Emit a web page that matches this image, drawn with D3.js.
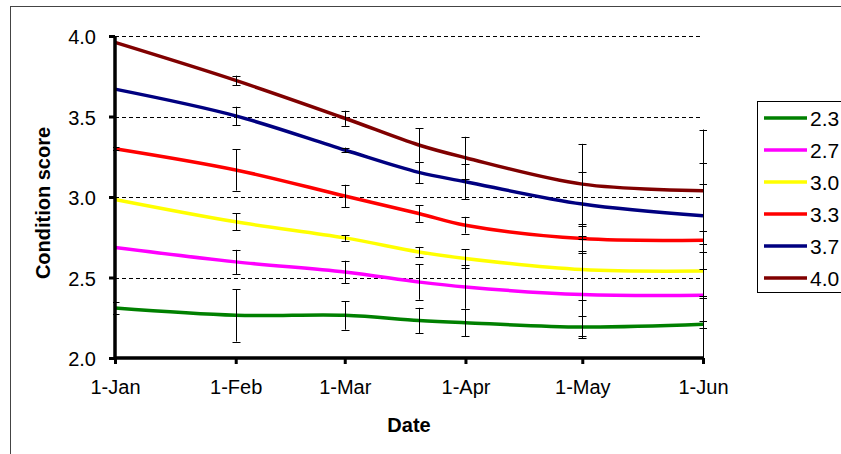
<!DOCTYPE html>
<html>
<head>
<meta charset="utf-8">
<script src="https://cdn.jsdelivr.net/npm/d3@7"></script>
<style>
    body { margin: 0; background: #fff; }
    svg { display: block; }
    text { font-family: 'Liberation Sans', Arial, sans-serif; fill: #000; }
    .tick-label { font-size: 20px; }
    .axis-title { font-size: 20px; font-weight: bold; }
    .legend-label { font-size: 21px; }
</style>
</head>
<body>
<div id="chart"></div>
<script>
// measurement dates (the mid-March one sits between the monthly ticks)
var dates = ['2001-01-01', '2001-02-01', '2001-03-01', '2001-03-20', '2001-04-01', '2001-05-01', '2001-06-01'];
var seriesNames = ['2.3', '2.7', '3.0', '3.3', '3.7', '4.0'];
var seriesColors = ['#008000', '#ff00ff', '#ffff00', '#ff0000', '#000080', '#800000'];

var values23 = [2.31, 2.265, 2.265, 2.233, 2.219, 2.192, 2.209];
var values27 = [2.686, 2.597, 2.534, 2.472, 2.441, 2.394, 2.389];
var values30 = [2.985, 2.846, 2.746, 2.659, 2.618, 2.549, 2.540];
var values33 = [3.30, 3.168, 3.006, 2.898, 2.825, 2.742, 2.732];
var values37 = [3.67, 3.504, 3.292, 3.153, 3.095, 2.956, 2.883];
var values40 = [3.96, 3.724, 3.489, 3.323, 3.244, 3.080, 3.039];

var errors23 = [0.035, 0.163, 0.089, 0.079, 0.085, 0.07, 0.02];
var errors27 = [0, 0.075, 0.07, 0.11, 0.135, 0.26, 0.4];
var errors30 = [0, 0.053, 0.018, 0.031, 0.056, 0.19, 0.17];
var errors33 = [0.01, 0.128, 0.07, 0.052, 0.052, 0.079, 0.35];
var errors37 = [0, 0.057, 0.015, 0.067, 0.11, 0.2, 0.33];
var errors40 = [0, 0.03, 0.047, 0.104, 0.13, 0.25, 0.38];

var xTicks = ['2001-01-01', '2001-02-01', '2001-03-01', '2001-04-01', '2001-05-01', '2001-06-01'];
var yTicks = [2.0, 2.5, 3.0, 3.5, 4.0];

var allValues = [values23, values27, values30, values33, values37, values40];
var allErrors = [errors23, errors27, errors30, errors33, errors37, errors40];

var width = 841, height = 454;
var margin = {top: 36, left: 115, right: 138, bottom: 96};
var chartWidth = width - margin.left - margin.right;
var chartHeight = height - margin.top - margin.bottom;

var parseDate = d3.timeParse('%Y-%m-%d');
var formatDate = d3.timeFormat('%-d-%b');

var series = seriesNames.map(function(name, i){
    return {
        name: name,
        color: seriesColors[i],
        points: dates.map(function(d, j){
            return {x: parseDate(d), y: allValues[i][j], err: allErrors[i][j]};
        })
    };
});

var scaleX = d3.scaleTime()
    .domain([parseDate(xTicks[0]), parseDate(xTicks[xTicks.length - 1])])
    .range([0, chartWidth]);
var scaleY = d3.scaleLinear()
    .domain([2, 4])
    .range([chartHeight, 0]);

var svg = d3.select('#chart').append('svg')
    .attr('width', width)
    .attr('height', height);

// chart area frame, runs off the right and bottom edges
svg.append('rect')
    .attr('x', 10.5)
    .attr('y', 6.5)
    .attr('width', 900)
    .attr('height', 500)
    .style('fill', 'none')
    .style('stroke', '#444')
    .style('stroke-width', 1);

svg.append('clipPath').attr('id', 'plot-clip')
    .append('rect')
    .attr('x', -2)
    .attr('y', -2)
    .attr('width', chartWidth + 6)
    .attr('height', chartHeight + 2);

var panel = svg.append('g')
    .attr('transform', 'translate(' + margin.left + ',' + margin.top + ')');

// dashed gridlines
panel.selectAll('line.grid')
    .data(yTicks.filter(function(d){ return d > 2; }))
    .enter().append('line')
    .attr('class', 'grid')
    .attr('x1', 0)
    .attr('x2', chartWidth)
    .attr('y1', function(d){ return Math.round(scaleY(d)) + 0.5; })
    .attr('y2', function(d){ return Math.round(scaleY(d)) + 0.5; })
    .style('stroke', '#000')
    .style('stroke-width', 1)
    .style('stroke-dasharray', '4,3');

var line = d3.line()
    .x(function(d){ return scaleX(d.x); })
    .y(function(d){ return scaleY(d.y); })
    .curve(d3.curveCatmullRom);

var plot = panel.append('g').attr('clip-path', 'url(#plot-clip)');

plot.selectAll('path.series')
    .data(series)
    .enter().append('path')
    .attr('class', 'series')
    .attr('d', function(d){ return line(d.points); })
    .style('fill', 'none')
    .style('stroke', function(d){ return d.color; })
    .style('stroke-width', 3.5);

// error bars
var bars = [];
series.forEach(function(s){
    s.points.forEach(function(p){
        if(p.err > 0){ bars.push(p); }
    });
});

var barGroups = plot.selectAll('g.err')
    .data(bars)
    .enter().append('g')
    .attr('class', 'err')
    .attr('transform', function(d){ return 'translate(' + (Math.round(scaleX(d.x)) + 0.5) + ',0)'; });
barGroups.append('line')
    .attr('x1', 0).attr('x2', 0)
    .attr('y1', function(d){ return scaleY(d.y + d.err); })
    .attr('y2', function(d){ return scaleY(d.y - d.err); });
barGroups.append('line')
    .attr('x1', -4).attr('x2', 4)
    .attr('y1', function(d){ return Math.round(scaleY(d.y + d.err)) + 0.5; })
    .attr('y2', function(d){ return Math.round(scaleY(d.y + d.err)) + 0.5; });
barGroups.append('line')
    .attr('x1', -4).attr('x2', 4)
    .attr('y1', function(d){ return Math.round(scaleY(d.y - d.err)) + 0.5; })
    .attr('y2', function(d){ return Math.round(scaleY(d.y - d.err)) + 0.5; });
barGroups.selectAll('line')
    .style('stroke', '#000')
    .style('stroke-width', 1);

// axes
var axisY = panel.append('g').call(
    d3.axisLeft(scaleY).tickValues(yTicks).tickSize(6).tickFormat(d3.format('.1f')));
var axisX = panel.append('g')
    .attr('transform', 'translate(0,' + chartHeight + ')')
    .call(d3.axisBottom(scaleX).tickValues(xTicks.map(parseDate)).tickSize(6).tickFormat(formatDate));

[axisY, axisX].forEach(function(axis){
    axis.select('.domain')
        .style('stroke', '#000')
        .style('stroke-width', 3.5);
    axis.selectAll('.tick line')
        .style('stroke', '#000')
        .style('stroke-width', 3);
    axis.selectAll('.tick text')
        .attr('class', 'tick-label')
        .style('font-family', null)
        .style('font-size', null)
        .attr('fill', '#000');
});
axisY.select('.domain').attr('d', 'M0,' + chartHeight + 'V0');
axisX.select('.domain').attr('d', 'M0,0H' + chartWidth);
axisY.selectAll('.tick text').attr('x', -19).attr('dy', '0.38em');
axisX.selectAll('.tick text').attr('y', 22);

svg.append('text')
    .attr('class', 'axis-title')
    .attr('text-anchor', 'middle')
    .attr('transform', 'translate(50,' + (margin.top + chartHeight / 2 + 6) + ') rotate(-90)')
    .text('Condition score');

svg.append('text')
    .attr('class', 'axis-title')
    .attr('text-anchor', 'middle')
    .attr('x', margin.left + chartWidth / 2)
    .attr('y', 432)
    .text('Date');

// legend, cut off by the right edge as in the original
var legend = svg.append('g').attr('transform', 'translate(757,101)');
legend.append('rect')
    .attr('x', 0.5)
    .attr('y', 0.5)
    .attr('width', 120)
    .attr('height', 191)
    .style('fill', '#fff')
    .style('stroke', '#000')
    .style('stroke-width', 1);

var items = legend.selectAll('g.item')
    .data(series)
    .enter().append('g')
    .attr('class', 'item')
    .attr('transform', function(d, i){ return 'translate(0,' + (17 + i * 32) + ')'; });
items.append('line')
    .attr('x1', 7).attr('x2', 50)
    .attr('y1', 0).attr('y2', 0)
    .style('stroke', function(d){ return d.color; })
    .style('stroke-width', 3.5);
items.append('text')
    .attr('class', 'legend-label')
    .attr('x', 53)
    .attr('y', 8)
    .text(function(d){ return d.name; });
</script>
</body>
</html>
